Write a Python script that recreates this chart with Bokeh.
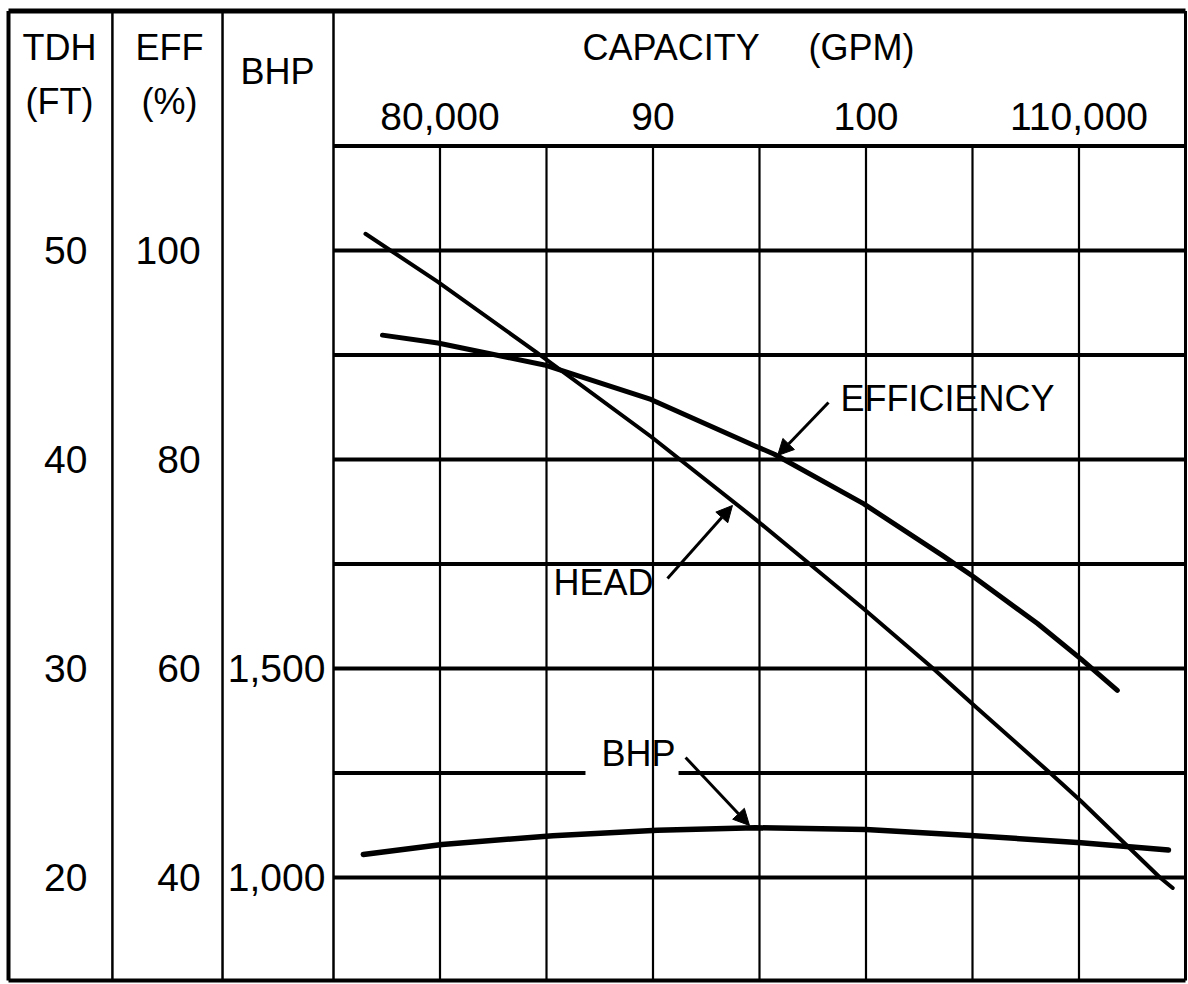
from bokeh.plotting import figure
from bokeh.models import Range1d, Arrow, NormalHead
from bokeh.embed import file_html
from bokeh.resources import INLINE
from bokeh.core.properties import value

# ---------------- data (capacity in thousand GPM) ----------------
head_gpm = [76.5, 79.9, 84.5, 89.9, 94.8, 97.0, 99.9, 103.1, 105.0, 108.7, 110.1, 113.8, 114.4]
head_ft = [50.8, 48.5, 45.15, 41.1, 37.15, 35.3, 32.85, 30.05, 28.3, 24.95, 23.65, 20.0, 19.5]

eff_gpm = [77.3, 79.9, 84.9, 89.9, 94.8, 95.7, 99.9, 103.6, 105.0, 108.05, 110.1, 111.8]
eff_pct = [91.9, 91.15, 89.05, 85.75, 81.3, 80.5, 75.75, 70.8, 68.85, 64.3, 60.9, 57.9]

bhp_gpm = [76.4, 80.1, 85.3, 90.2, 94.8, 100.0, 105.1, 110.1, 114.2]
bhp_hp = [1055, 1079, 1100, 1113, 1119, 1115, 1100, 1083, 1066]

capacity_ticks = [80, 90, 100, 110]
capacity_tick_labels = ["80,000", "90", "100", "110,000"]
capacity_grid = [80, 85, 90, 95, 100, 105, 110]

tdh_ticks = [50, 40, 30, 20]
tdh_tick_labels = ["50", "40", "30", "20"]
tdh_grid = [20, 25, 30, 35, 40, 45, 50, 55]
eff_ticks = [100, 80, 60, 40]
eff_tick_labels = ["100", "80", "60", "40"]
bhp_ticks = [1500, 1000]
bhp_tick_labels = ["1,500", "1,000"]

# ---------------- layout (data units) ----------------
X_MIN, X_MAX = 59.366, 115.141
Y_MIN, Y_MAX = 14.880, 61.962
X_FRAME_L = 59.742
X_SEP1, X_SEP2 = 64.62, 69.79
X_P0, X_P1 = 75.0, 115.0
Y_FRAME_B, Y_FRAME_T = 15.07, 61.46
Y_HEADER = 55.0

FONT = value("Liberation Sans")
FS_WORD = "36px"
FS_NUM = "39px"

p = figure(width=1188, height=984, x_range=Range1d(X_MIN, X_MAX),
           y_range=Range1d(Y_MIN, Y_MAX), output_backend="svg",
           toolbar_location=None, min_border=0, x_axis_type=None, y_axis_type=None)
p.extra_y_ranges = {"eff": Range1d(2 * Y_MIN, 2 * Y_MAX),
                    "bhp": Range1d(50 * Y_MIN, 50 * Y_MAX)}
p.outline_line_color = None
p.background_fill_color = "white"
p.border_fill_color = "white"

K = "black"

# outer frame
p.segment(x0=[X_FRAME_L], y0=[Y_FRAME_T], x1=[X_P1], y1=[Y_FRAME_T], line_color=K, line_width=5)
p.segment(x0=[X_FRAME_L], y0=[Y_FRAME_B], x1=[X_P1], y1=[Y_FRAME_B], line_color=K, line_width=4)
p.segment(x0=[X_FRAME_L], y0=[Y_FRAME_B], x1=[X_FRAME_L], y1=[Y_FRAME_T], line_color=K, line_width=4)
p.segment(x0=[X_P1], y0=[Y_FRAME_B], x1=[X_P1], y1=[Y_FRAME_T], line_color=K, line_width=3)
# column separators
p.segment(x0=[X_SEP1, X_SEP2, X_P0], y0=[Y_FRAME_B] * 3, x1=[X_SEP1, X_SEP2, X_P0],
          y1=[Y_FRAME_T] * 3, line_color=K, line_width=2.5)

# vertical grid lines in plot area
p.segment(x0=capacity_grid, y0=[Y_FRAME_B] * len(capacity_grid), x1=capacity_grid,
          y1=[Y_HEADER] * len(capacity_grid), line_color=K, line_width=2.2)

# horizontal grid lines (gap in the 25 ft line for the BHP label)
GAP0, GAP1 = 86.83, 91.20
hx0, hx1, hy = [], [], []
for t in tdh_grid:
    if t == 25:
        hx0 += [X_P0, GAP1]; hx1 += [GAP0, X_P1]; hy += [t, t]
    else:
        hx0.append(X_P0); hx1.append(X_P1); hy.append(t)
p.segment(x0=hx0, y0=hy, x1=hx1, y1=hy, line_color=K, line_width=4)

# curves
p.line(head_gpm, head_ft, line_color=K, line_width=4, line_cap="round", line_join="round")
p.line(eff_gpm, eff_pct, y_range_name="eff", line_color=K, line_width=5,
       line_cap="round", line_join="round")
p.line(bhp_gpm, bhp_hp, y_range_name="bhp", line_color=K, line_width=5.5,
       line_cap="round", line_join="round")


def txt(x, y, s, align="left", yr="default", fs=FS_WORD):
    p.text(x=x, y=y, text=s, text_font=FONT, text_font_size=fs, text_color=K,
           text_align=align, text_baseline="middle", y_range_name=yr)


# header texts
txt([86.69], [59.71], ["CAPACITY"])
txt([97.30], [59.71], ["(GPM)"])
txt(capacity_ticks, [56.41] * len(capacity_ticks), capacity_tick_labels, align="center", fs=FS_NUM)

txt([62.14, 62.14], [59.71, 57.13], ["TDH", "(FT)"], align="center")
txt([67.30, 67.30], [59.71, 57.13], ["EFF", "(%)"], align="center")
txt([72.37], [58.56], ["BHP"], align="center")

# left scales
txt([63.45] * len(tdh_ticks), tdh_ticks, tdh_tick_labels, align="right", fs=FS_NUM)
txt([68.76] * len(eff_ticks), eff_ticks, eff_tick_labels, align="right", yr="eff", fs=FS_NUM)
txt([74.62] * len(bhp_ticks), bhp_ticks, bhp_tick_labels, align="right", yr="bhp", fs=FS_NUM)

# curve labels with arrows
txt([98.80], [42.92], ["EFFICIENCY"])
txt([85.33], [34.11], ["HEAD"])
txt([87.58], [25.93], ["BHP"])

for xs, ys, xe, ye in [(98.24, 42.73, 95.85, 40.19),
                       (90.68, 34.31, 93.73, 37.80),
                       (91.53, 25.74, 94.53, 22.49)]:
    p.add_layout(Arrow(end=NormalHead(size=16, fill_color=K, line_color=K),
                       x_start=xs, y_start=ys, x_end=xe, y_end=ye,
                       line_color=K, line_width=3))

open("out.html", "w").write(file_html(p, INLINE))
